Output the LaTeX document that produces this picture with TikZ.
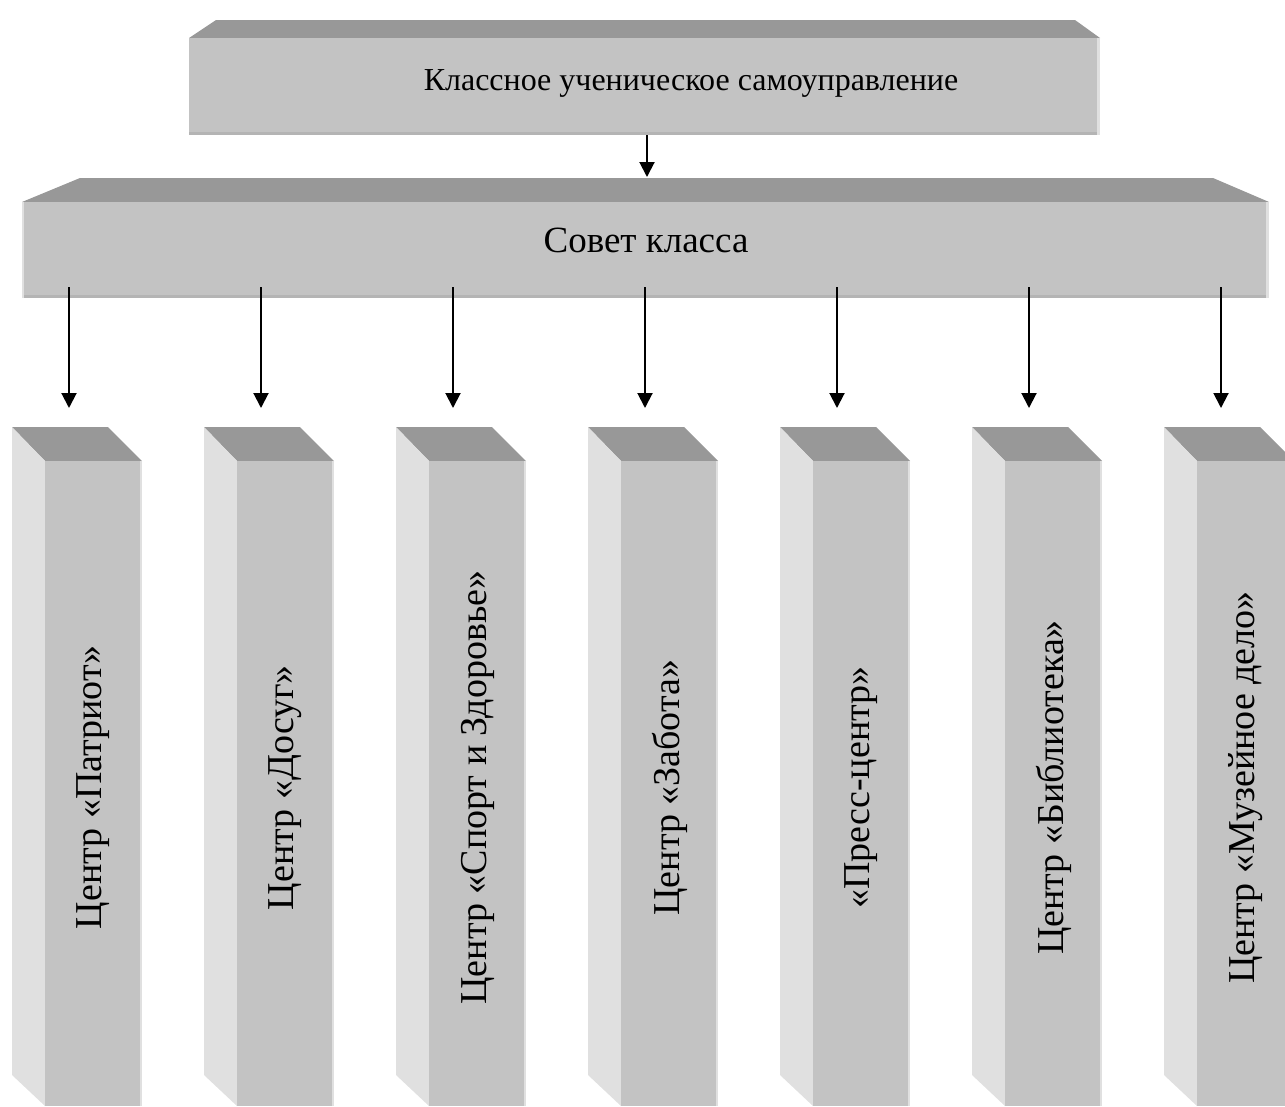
\documentclass[tikz,border=0pt]{standalone}
\usepackage{fontspec}
\setmainfont{Liberation Serif}
\usetikzlibrary{arrows.meta}

\definecolor{frontgray}{RGB}{195,195,195}
\definecolor{topgray}{RGB}{152,152,152}
\definecolor{sidegray}{RGB}{224,224,224}
\definecolor{edgegray}{RGB}{180,180,180}

\tikzset{
  front/.style={fill=frontgray, draw=none, inner sep=0pt, outer sep=0pt, anchor=north west},
  arr/.style={line width=2pt, -{Triangle[length=15pt,width=15pt]}},
  bigtext/.style={font=\fontsize{37}{44}\selectfont},
  coltext/.style={font=\fontsize{38}{45}\selectfont, rotate=90},
}

\begin{document}
\begin{tikzpicture}[x=1pt,y=-1pt]
\useasboundingbox (0,0) rectangle (1285,1106);

% top box
\fill[topgray] (216,20) -- (1075,20) -- (1100,38) -- (189,38) -- cycle;
\node[front, minimum width=911pt, minimum height=97pt] (ksu) at (189,38) {};
\fill[edgegray] (189,132) rectangle (1100,135);
\fill[sidegray] (1097,38) rectangle (1100,135);
\node[font=\fontsize{32}{38}\selectfont] (ksutext) at (691,83) {Классное ученическое самоуправление};

% council box
\fill[topgray] (80,178) -- (1213,178) -- (1269,202) -- (22,202) -- cycle;
\node[front, minimum width=1247pt, minimum height=96pt] (sovet) at (22,202) {};
\fill[edgegray] (22,295) rectangle (1269,298);
\fill[sidegray] (1266,202) rectangle (1269,298);
\fill[sidegray] (22,202) rectangle (24,298);
\node[bigtext] (sovettext) at (646,240) {Совет класса};

\coordinate (k1) at (647,135);
\coordinate (k2) at (647,177);
\draw[arr] (k1) -- (k2);

% columns
\foreach \name [count=\i from 0] in {Центр «Патриот», Центр «Досуг», Центр «Спорт и Здоровье», Центр «Забота», «Пресс-центр», Центр «Библиотека», Центр «Музейное дело»}{
  \fill[topgray] ({12+192*\i},427) -- ({108+192*\i},427) -- ({142+192*\i},461) -- ({45+192*\i},461) -- cycle;
  \fill[sidegray] ({12+192*\i},427) -- ({45+192*\i},461) -- ({45+192*\i},1106) -- ({12+192*\i},1075) -- cycle;
  \node[front, minimum width=97pt, minimum height=645pt] (c\i) at ({45+192*\i},461) {};
  \fill[sidegray] ({140+192*\i},461) rectangle ({142+192*\i},1106);
  \node[coltext] (t\i) at ([yshift=-4pt]c\i.center) {\name};
  \coordinate (s\i) at ({69+192*\i},287);
  \coordinate (e\i) at ({69+192*\i},408);
  \draw[arr] (s\i) -- (e\i);
}
\end{tikzpicture}
\end{document}
